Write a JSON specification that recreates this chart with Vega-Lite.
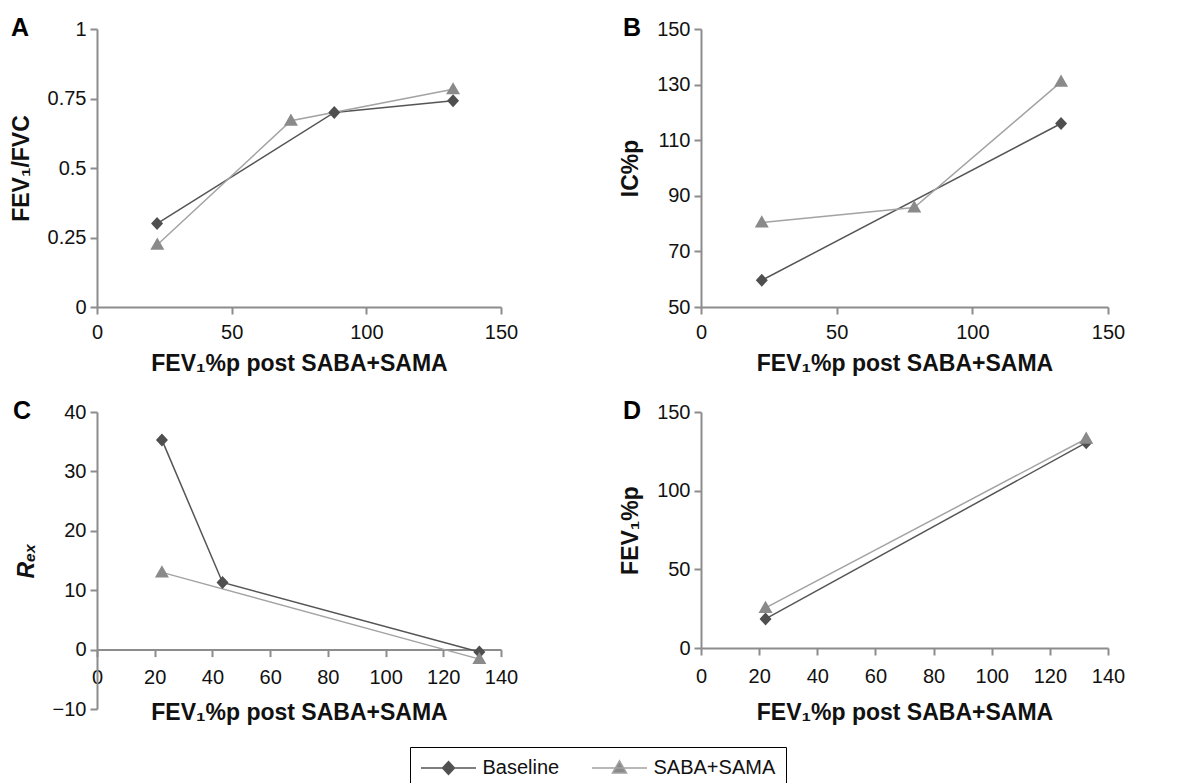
{
  "$schema": "https://vega.github.io/schema/vega-lite/v6.json",
  "background": "white",
  "padding": {"left": 10, "top": 16, "right": 5, "bottom": 5},
  "autosize": {"type": "pad"},
  "data": {
    "values": [
      {"panel": "A", "series": "Baseline", "x": 22.3, "y": 0.30},
      {"panel": "A", "series": "Baseline", "x": 88.1, "y": 0.70},
      {"panel": "A", "series": "Baseline", "x": 132.2, "y": 0.742},
      {"panel": "A", "series": "SABA+SAMA", "x": 22.4, "y": 0.224},
      {"panel": "A", "series": "SABA+SAMA", "x": 72.0, "y": 0.67},
      {"panel": "A", "series": "SABA+SAMA", "x": 132.2, "y": 0.783},
      {"panel": "B", "series": "Baseline", "x": 22.4, "y": 59.6},
      {"panel": "B", "series": "Baseline", "x": 132.7, "y": 116.0},
      {"panel": "B", "series": "SABA+SAMA", "x": 22.4, "y": 80.4},
      {"panel": "B", "series": "SABA+SAMA", "x": 78.6, "y": 85.8},
      {"panel": "B", "series": "SABA+SAMA", "x": 132.7, "y": 131.0},
      {"panel": "C", "series": "Baseline", "x": 22.5, "y": 35.3},
      {"panel": "C", "series": "Baseline", "x": 43.5, "y": 11.3},
      {"panel": "C", "series": "Baseline", "x": 132.5, "y": -0.4},
      {"panel": "C", "series": "SABA+SAMA", "x": 22.5, "y": 13.0},
      {"panel": "C", "series": "SABA+SAMA", "x": 132.5, "y": -1.6},
      {"panel": "D", "series": "Baseline", "x": 22.2, "y": 18.5},
      {"panel": "D", "series": "Baseline", "x": 132.5, "y": 130.5},
      {"panel": "D", "series": "SABA+SAMA", "x": 22.2, "y": 25.5},
      {"panel": "D", "series": "SABA+SAMA", "x": 132.5, "y": 133.0}
    ]
  },
  "config": {
    "view": {"stroke": null},
    "font": "Liberation Sans",
    "axis": {
      "grid": false,
      "domainColor": "#8c8c8c",
      "domainWidth": 2,
      "tickColor": "#8c8c8c",
      "tickWidth": 2,
      "tickSize": 7,
      "labelFont": "Liberation Sans",
      "labelFontSize": 20,
      "labelColor": "#111111",
      "labelFlush": false,
      "labelOverlap": false,
      "titleFont": "Liberation Sans",
      "titleFontSize": 23,
      "titleFontWeight": "bold",
      "titleColor": "#111111"
    },
    "axisY": {"labelPadding": 4, "titlePadding": 14},
    "axisX": {"labelPadding": 8, "titlePadding": 10},
    "title": {
      "font": "Liberation Sans",
      "fontSize": 25,
      "fontWeight": "bold",
      "color": "#000000",
      "anchor": "start",
      "frame": "group",
      "offset": 0,
      "baseline": "alphabetic"
    },
    "legend": {
      "symbolSize": 400,
      "symbolOffset": 17.5,
      "symbolOpacity": 1,
      "symbolStrokeWidth": 1.5,
      "labelFont": "Liberation Sans",
      "labelFontSize": 20,
      "labelColor": "#111111",
      "labelOffset": 23,
      "columnPadding": 29,
      "padding": 10,
      "strokeColor": "#000000",
      "fillColor": "white"
    }
  },
  "columns": 2,
  "spacing": {"row": 105, "column": 200},
  "bounds": "flush",
  "concat": [
    {
      "width": 404,
      "height": 278,
      "title": {"text": "A", "dx": -86, "dy": 26},
      "transform": [{"filter": "datum.panel === 'A'"}],
      "encoding": {
        "x": {"field": "x", "type": "quantitative", "scale": {"domain": [0, 150], "nice": false, "zero": false}, "axis": {"title": "FEV₁%p post SABA+SAMA", "values": [0, 50, 100, 150]}},
        "y": {"field": "y", "type": "quantitative", "scale": {"domain": [0, 1], "nice": false, "zero": false}, "axis": {"title": "FEV₁/FVC", "values": [0, 0.25, 0.5, 0.75, 1], "format": ".2~f"}}
      },
      "layer": [
        {"mark": {"type": "line", "strokeWidth": 1.5}, "encoding": {"stroke": {"field": "series", "type": "nominal", "scale": {"domain": ["Baseline", "SABA+SAMA"], "range": ["#555555", "#a3a3a3"]},
          "legend": {"title": null, "orient": "none", "legendX": 313, "legendY": 718, "direction": "horizontal"}}}},
        {"mark": {"type": "point", "filled": true, "size": 400, "opacity": 1},
         "encoding": {
           "color": {"field": "series", "type": "nominal", "scale": {"domain": ["Baseline", "SABA+SAMA"], "range": ["#4f4f4f", "#8a8a8a"]},
             "legend": {"title": null, "orient": "none", "legendX": 313, "legendY": 718, "direction": "horizontal",
               "encode": {"symbols": {"update": {"stroke": {"scale": "stroke", "field": "value"}, "fill": {"scale": "color", "field": "value"}, "shape": {"scale": "shape", "field": "value"}, "strokeWidth": {"value": 1.5}, "opacity": {"value": 1}}}}}},
           "shape": {"field": "series", "type": "nominal", "scale": {"domain": ["Baseline", "SABA+SAMA"], "range": ["M-2.75,0H2.75M0,-0.65L0.6,0L0,0.65L-0.6,0Z", "M-2.75,0H2.75M0,-0.72L0.7,0.5L-0.7,0.5Z"]},
             "legend": {"title": null, "orient": "none", "legendX": 313, "legendY": 718, "direction": "horizontal"}}
         }}
      ]
    },
    {
      "width": 407,
      "height": 278,
      "title": {"text": "B", "dx": -78, "dy": 26},
      "transform": [{"filter": "datum.panel === 'B'"}],
      "encoding": {
        "x": {"field": "x", "type": "quantitative", "scale": {"domain": [0, 150], "nice": false, "zero": false}, "axis": {"title": "FEV₁%p post SABA+SAMA", "values": [0, 50, 100, 150]}},
        "y": {"field": "y", "type": "quantitative", "scale": {"domain": [50, 150], "nice": false, "zero": false}, "axis": {"title": "IC%p", "values": [50, 70, 90, 110, 130, 150]}}
      },
      "layer": [
        {"mark": {"type": "line", "strokeWidth": 1.5}, "encoding": {"stroke": {"field": "series", "type": "nominal"}}},
        {"mark": {"type": "point", "filled": true, "size": 400, "opacity": 1},
         "encoding": {
           "color": {"field": "series", "type": "nominal"},
           "shape": {"field": "series", "type": "nominal"}
         }}
      ]
    },
    {
      "width": 404,
      "height": 297,
      "title": {"text": "C", "dx": -84, "dy": 26},
      "transform": [{"filter": "datum.panel === 'C'"}],
      "encoding": {
        "x": {"field": "x", "type": "quantitative", "scale": {"domain": [0, 140], "nice": false, "zero": false}, "axis": {"title": "FEV₁%p post SABA+SAMA", "values": [0, 20, 40, 60, 80, 100, 120, 140], "offset": -59.4, "labelPadding": 11, "titlePadding": 14}},
        "y": {"field": "y", "type": "quantitative", "scale": {"domain": [-10, 40], "nice": false, "zero": false}, "axis": {"title": "Rₑₓ", "titleFontStyle": "italic", "values": [-10, 0, 10, 20, 30, 40]}}
      },
      "layer": [
        {"mark": {"type": "line", "strokeWidth": 1.5}, "encoding": {"stroke": {"field": "series", "type": "nominal"}}},
        {"mark": {"type": "point", "filled": true, "size": 400, "opacity": 1},
         "encoding": {
           "color": {"field": "series", "type": "nominal"},
           "shape": {"field": "series", "type": "nominal"}
         }}
      ]
    },
    {
      "width": 407,
      "height": 236,
      "title": {"text": "D", "dx": -78, "dy": 26},
      "transform": [{"filter": "datum.panel === 'D'"}],
      "encoding": {
        "x": {"field": "x", "type": "quantitative", "scale": {"domain": [0, 140], "nice": false, "zero": false}, "axis": {"title": "FEV₁%p post SABA+SAMA", "values": [0, 20, 40, 60, 80, 100, 120, 140], "labelPadding": 11, "titlePadding": 15}},
        "y": {"field": "y", "type": "quantitative", "scale": {"domain": [0, 150], "nice": false, "zero": false}, "axis": {"title": "FEV₁%p", "values": [0, 50, 100, 150]}}
      },
      "layer": [
        {"mark": {"type": "line", "strokeWidth": 1.5}, "encoding": {"stroke": {"field": "series", "type": "nominal"}}},
        {"mark": {"type": "point", "filled": true, "size": 400, "opacity": 1},
         "encoding": {
           "color": {"field": "series", "type": "nominal"},
           "shape": {"field": "series", "type": "nominal"}
         }}
      ]
    }
  ]
}
